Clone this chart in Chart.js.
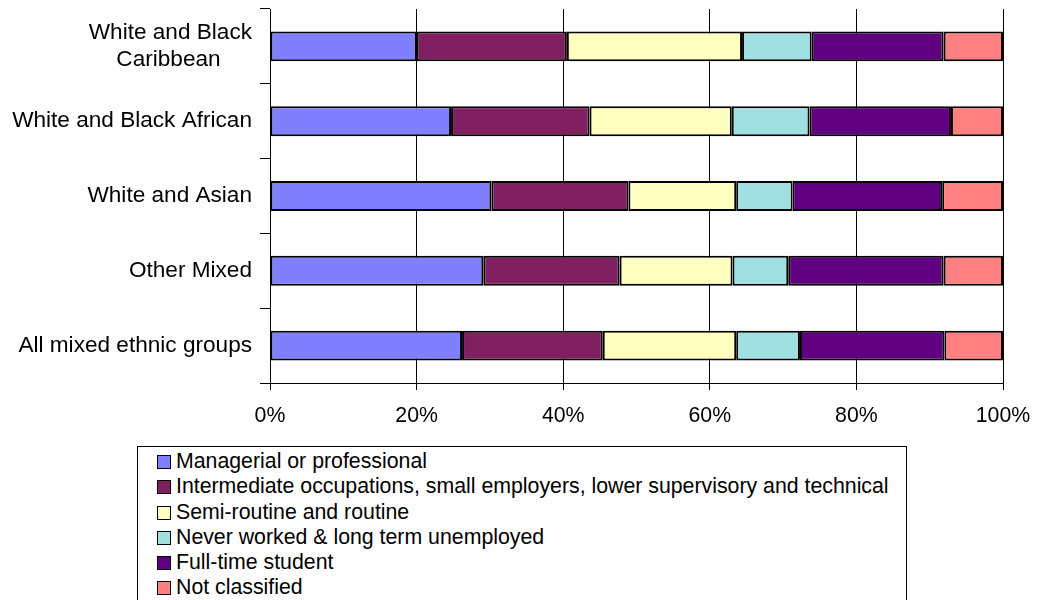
<!DOCTYPE html>
<html>
<head>
<meta charset="utf-8">
<script src="https://cdn.jsdelivr.net/npm/chart.js@4/dist/chart.umd.min.js"></script>
<style>
    body { margin: 0; background: #fff; font-family: "Liberation Sans", Arial, sans-serif; }
    .wrap { position: relative; width: 1047px; height: 600px; overflow: hidden; }
    .chart_box { position: absolute; left: 0; top: 0; width: 1047px; height: 440px; }
    .legend_box {
        position: absolute; left: 137px; top: 446px; width: 770px; height: 170px;
        border: 1px solid #000; box-sizing: border-box; padding-top: 2px;
    }
    .legend_box div { height: 25.3px; line-height: 25px; font-size: 21.3px; color: #000; white-space: nowrap; }
    .legend_box span {
        display: inline-block; width: 12px; height: 12px; border: 1.5px solid #000;
        margin-left: 19px; margin-right: 5px; vertical-align: -1px;
    }
</style>
</head>
<body>
<div class="wrap">
    <div class="chart_box"><canvas id="main_chart"></canvas></div>
    <div class="legend_box" id="legend"></div>
</div>
<script>
// ethnic groups down the category axis (second line padded so it sits centred under the first)
const groups = [
    ["White and Black", "Caribbean     "],
    "White and Black African",
    "White and Asian",
    "Other Mixed",
    "All mixed ethnic groups"
];
const series = [
    "Managerial or professional",
    "Intermediate occupations, small employers, lower supervisory and technical",
    "Semi-routine and routine",
    "Never worked & long term unemployed",
    "Full-time student",
    "Not classified"
];
// percentages per group, one array per class
const managerial   = [20.0, 24.7, 30.2, 29.1, 26.2];
const intermediate = [20.5, 18.9, 18.7, 18.6, 19.2];
const routine      = [23.9, 19.4, 14.7, 15.4, 18.2];
const neverWorked  = [9.5, 10.6, 7.7, 7.6, 8.7];
const student      = [18.0, 19.3, 20.4, 21.2, 19.7];
const notClass     = [8.1, 7.1, 8.3, 8.1, 8.0];
const xTicks = [0, 20, 40, 60, 80, 100];

const colors = ['#8080FF', '#802060', '#FFFFC0', '#A0E0E0', '#600080', '#FF8080'];
const values = [managerial, intermediate, routine, neverWorked, student, notClass];

let data = {
    labels: groups,
    datasets: series.map((name, i) => ({
        label: name,
        data: values[i],
        backgroundColor: colors[i],
        borderColor: '#000',
        borderWidth: 2,
        borderSkipped: false,
        barPercentage: 0.4,
        categoryPercentage: 1
    }))
};

const fontFamily = '"Liberation Sans", Arial, sans-serif';

let chart1 = new Chart(document.getElementById('main_chart'), {
    type: 'bar',
    data: data,
    options: {
        indexAxis: 'y',
        responsive: true,
        maintainAspectRatio: false,
        animation: false,
        layout: { padding: { top: 9, right: 44, left: 0, bottom: 0 } },
        plugins: {
            legend: { display: false },
            tooltip: { enabled: false }
        },
        scales: {
            x: {
                stacked: true,
                min: 0,
                max: 100,
                afterBuildTicks: (s) => { s.ticks = xTicks.map(v => ({ value: v })); },
                afterFit: (s) => { s.height = 57; },
                ticks: {
                    color: '#000',
                    font: { family: fontFamily, size: 21.3 },
                    padding: 13,
                    maxRotation: 0,
                    callback: (v) => v + '%'
                },
                grid: { color: '#000', lineWidth: 1, tickLength: 7, drawTicks: true },
                border: { color: '#000', width: 1 }
            },
            y: {
                stacked: true,
                afterFit: (s) => { s.width = 270; s.paddingTop = 0; s.paddingBottom = 0; },
                ticks: {
                    color: '#000',
                    font: { family: fontFamily, size: 22.6 },
                    padding: 8,
                    crossAlign: 'near'
                },
                grid: { offset: true, drawOnChartArea: false, color: '#000', tickLength: 10 },
                border: { color: '#000', width: 1 }
            }
        }
    }
});

// legend list, one entry per line
const legend = document.getElementById('legend');
chart1.data.datasets.forEach((ds) => {
    const row = document.createElement('div');
    const sw = document.createElement('span');
    sw.style.background = ds.backgroundColor;
    row.appendChild(sw);
    row.appendChild(document.createTextNode(ds.label));
    legend.appendChild(row);
});
</script>
</body>
</html>
